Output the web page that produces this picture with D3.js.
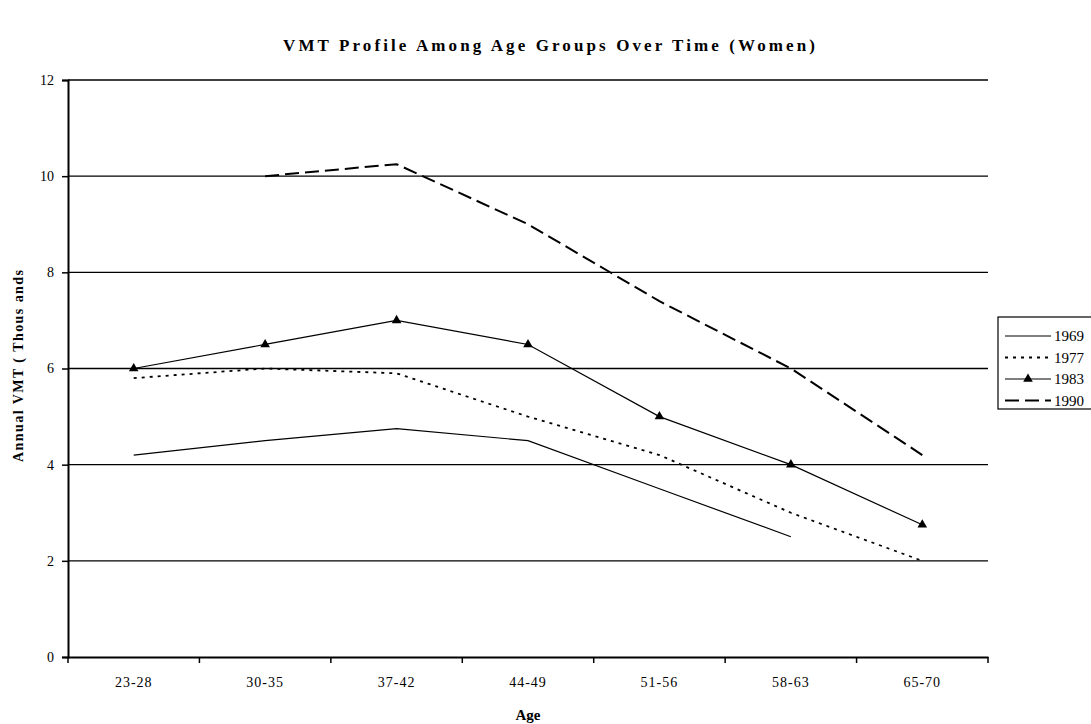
<!DOCTYPE html>
<html>
<head>
<meta charset="utf-8">
<script src="https://cdn.jsdelivr.net/npm/d3@7"></script>
<style>
  body { margin: 0; background: #fff; }
  text { font-family: "Liberation Serif", "Times New Roman", serif; fill: #000; }
</style>
</head>
<body>
<div id="chart"></div>
<script>
const ageGroups = ["23-28", "30-35", "37-42", "44-49", "51-56", "58-63", "65-70"];
const yTicks = [0, 2, 4, 6, 8, 10, 12];

const vmt1969 = [4.2, 4.5, 4.75, 4.5, 3.5, 2.5, null];
const vmt1977 = [5.8, 6.0, 5.9, 5.0, 4.2, 3.0, 2.0];
const vmt1983 = [6.0, 6.5, 7.0, 6.5, 5.0, 4.0, 2.75];
const vmt1990 = [null, 10.0, 10.25, 9.0, 7.4, 6.0, 4.2];

const seriesNames = ["1969", "1977", "1983", "1990"];

const width = 1091, height = 724;
const margin = { top: 80, right: 103, bottom: 67, left: 68 };
const innerW = width - margin.left - margin.right;
const innerH = height - margin.top - margin.bottom;

const styles = {
    "1969": { dash: null, w: 1.2, marker: false },
    "1977": { dash: "3,5", w: 1.8, marker: false },
    "1983": { dash: null, w: 1.2, marker: true },
    "1990": { dash: "14,6", w: 2, marker: false }
};

const series = [vmt1969, vmt1977, vmt1983, vmt1990].map((vals, i) => ({
    name: seriesNames[i],
    values: vals.map((v, j) => ({ age: ageGroups[j], v }))
}));

const svg = d3.select("#chart").append("svg")
    .attr("width", width)
    .attr("height", height);

const g = svg.append("g")
    .attr("transform", `translate(${margin.left},${margin.top})`);

const x = d3.scaleBand().domain(ageGroups).range([0, innerW]);
const y = d3.scaleLinear().domain([0, 12]).range([innerH, 0]);

// gridlines
g.append("g").selectAll("line")
    .data(yTicks.filter(t => t > 0))
    .join("line")
    .attr("x1", 0).attr("x2", innerW)
    .attr("y1", d => y(d)).attr("y2", d => y(d))
    .attr("stroke", "#000").attr("stroke-width", 1.4);

// y axis
const yAxis = g.append("g")
    .call(d3.axisLeft(y).tickValues(yTicks).tickSize(6).tickPadding(8));
yAxis.select(".domain").attr("stroke-width", 2);
yAxis.selectAll(".tick line").attr("stroke-width", 1.5);
yAxis.selectAll(".tick text")
    .attr("fill", "#000")
    .style("font-family", "Liberation Serif").style("font-size", "14px");

// x axis
const xAxis = g.append("g")
    .attr("transform", `translate(0,${innerH})`)
    .call(d3.axisBottom(x).tickSize(0).tickPadding(20));
xAxis.select(".domain").attr("stroke-width", 2);
xAxis.selectAll(".tick text")
    .attr("fill", "#000")
    .style("font-family", "Liberation Serif").style("font-size", "14px")
    .style("letter-spacing", "1px");
xAxis.append("g").selectAll("line")
    .data(d3.range(ageGroups.length + 1))
    .join("line")
    .attr("x1", i => i * x.step()).attr("x2", i => i * x.step())
    .attr("y1", 0).attr("y2", 6)
    .attr("stroke", "#000").attr("stroke-width", 1.5);

// lines
const line = d3.line()
    .defined(d => d.v != null)
    .x(d => x(d.age) + x.bandwidth() / 2)
    .y(d => y(d.v));

g.append("g").selectAll("path")
    .data(series)
    .join("path")
    .attr("fill", "none")
    .attr("stroke", "#000")
    .attr("stroke-width", d => styles[d.name].w)
    .attr("stroke-dasharray", d => styles[d.name].dash)
    .attr("d", d => line(d.values));

const tri = d3.symbol().type(d3.symbolTriangle).size(40);
g.append("g").selectAll("path")
    .data(series.filter(s => styles[s.name].marker).flatMap(s => s.values.filter(d => d.v != null)))
    .join("path")
    .attr("d", tri)
    .attr("transform", d => `translate(${x(d.age) + x.bandwidth() / 2},${y(d.v)})`)
    .attr("fill", "#000");

// title
svg.append("text")
    .attr("x", 549).attr("y", 51)
    .attr("text-anchor", "middle")
    .attr("textLength", 532).attr("lengthAdjust", "spacing")
    .style("font-size", "17px").style("font-weight", "bold")
    .text("VMT Profile Among Age Groups Over Time (Women)");

// axis titles
svg.append("text")
    .attr("x", margin.left + innerW / 2).attr("y", 720)
    .attr("text-anchor", "middle")
    .style("font-size", "15px").style("font-weight", "bold")
    .text("Age");

svg.append("text")
    .attr("transform", "translate(23,366) rotate(-90)")
    .attr("text-anchor", "middle")
    .attr("textLength", 192).attr("lengthAdjust", "spacing")
    .style("font-size", "14px").style("font-weight", "bold")
    .text("Annual VMT ( Thous ands");

// legend
const legend = svg.append("g").attr("transform", "translate(998,317)");
legend.append("rect")
    .attr("x", 0).attr("y", 0).attr("width", 120).attr("height", 92)
    .attr("fill", "#fff").attr("stroke", "#000").attr("stroke-width", 1.2);

const rows = legend.selectAll("g.row")
    .data(seriesNames)
    .join("g")
    .attr("class", "row")
    .attr("transform", (d, i) => `translate(0,${19 + i * 21.5})`);

rows.append("line")
    .attr("x1", 7).attr("x2", 53).attr("y1", 0).attr("y2", 0)
    .attr("stroke", "#000")
    .attr("stroke-width", d => styles[d].w)
    .attr("stroke-dasharray", d => styles[d].dash);

rows.filter(d => styles[d].marker).append("path")
    .attr("d", tri)
    .attr("transform", "translate(30,0)")
    .attr("fill", "#000");

rows.append("text")
    .attr("x", 56).attr("y", 5)
    .style("font-size", "15px")
    .text(d => d);
</script>
</body>
</html>
